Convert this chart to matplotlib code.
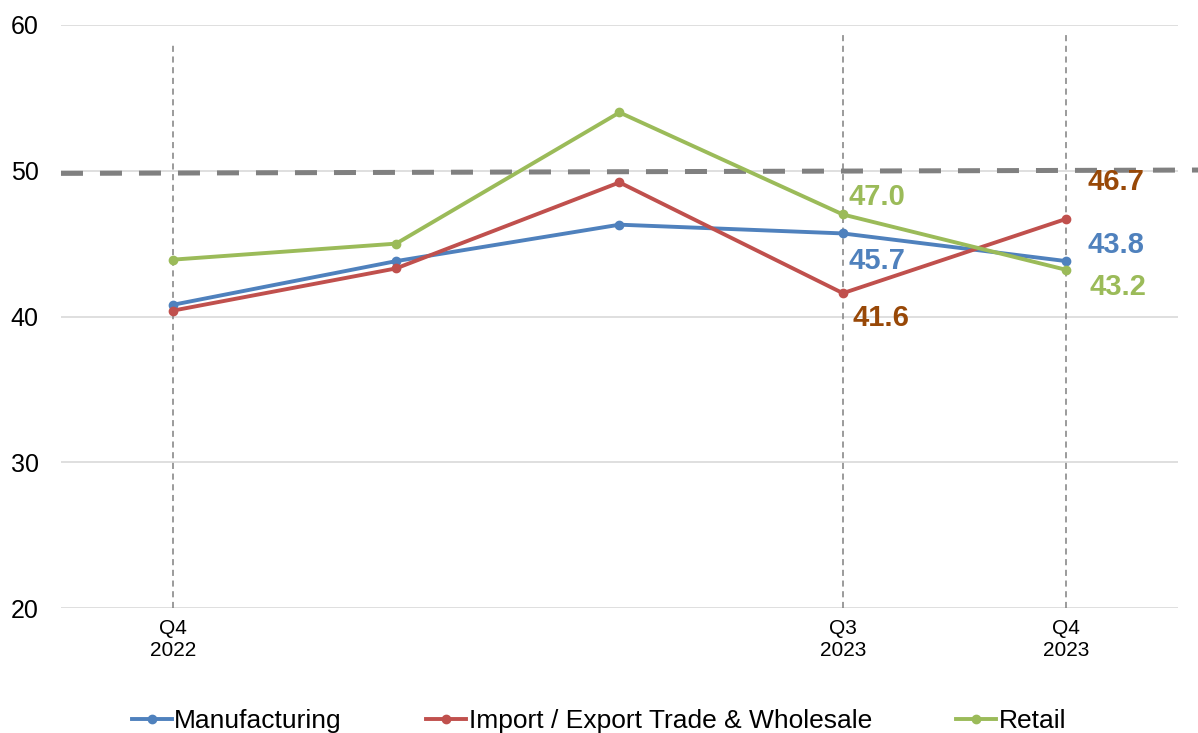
import numpy as np
import matplotlib
matplotlib.use("Agg")
import matplotlib.pyplot as plt

# data
quarters = ["Q4\n2022", "", "", "Q3\n2023", "Q4\n2023"]
manufacturing = [40.8, 43.8, 46.3, 45.7, 43.8]
import_export = [40.4, 43.3, 49.2, 41.6, 46.7]
retail = [43.9, 45.0, 54.0, 47.0, 43.2]

plt.rcParams['font.family'] = ['Liberation Sans', 'DejaVu Sans']

fig = plt.figure(figsize=(11.98, 7.33), dpi=100)
ax = fig.add_axes([0.0509, 0.1705, 0.9324, 0.7954])

x = np.arange(len(quarters))
blue = '#4F81BD'
red = '#C0504D'
green = '#9BBB59'

# gridlines
ax.set_ylim(20, 60)
ax.set_xlim(-0.5, 4.5)
ax.set_yticks([20, 30, 40, 50, 60])
ax.grid(axis='y', color='#D9D9D9', linewidth=1.2)
ax.set_axisbelow(True)
for s in ax.spines.values():
    s.set_visible(False)

# vertical markers for labelled quarters
for xi, top in [(0, 58.8), (3, 59.3), (4, 59.6)]:
    ax.plot([xi, xi], [20, top], color='#808080', linestyle=(0, (4, 3)),
            linewidth=1.1, zorder=1)

# 50 threshold line (runs off the right edge)
ax.plot([-0.5, 4.6], [49.82, 50.05], color='#808080', linestyle=(0, (4.4, 3.4)),
        linewidth=3.6, clip_on=False, zorder=2)

ax.plot(x, manufacturing, color=blue, marker='o', markersize=6, linewidth=2.8,
        label='Manufacturing', zorder=3)
ax.plot(x, import_export, color=red, marker='o', markersize=6, linewidth=2.8,
        label='Import / Export Trade & Wholesale', zorder=3)
ax.plot(x, retail, color=green, marker='o', markersize=6, linewidth=2.8,
        label='Retail', zorder=3)

# value labels
brown = '#984807'
labels = [
    (3, retail[3], green, (6, 17)),
    (3, manufacturing[3], blue, (6, -28)),
    (3, import_export[3], brown, (10, -25)),
    (4, import_export[4], brown, (21, 37)),
    (4, manufacturing[4], blue, (21, 16)),
    (4, retail[4], green, (23, -17)),
]
for xi, v, c, off in labels:
    ax.annotate(f"{v:.1f}", (xi, v), xytext=off, textcoords='offset pixels',
                color=c, fontsize=21, fontweight='bold', ha='left', va='center')

ax.set_xticks(x)
ax.set_xticklabels(quarters, fontsize=15)
ax.tick_params(axis='x', length=0, pad=8)
ax.tick_params(axis='y', length=0, pad=16, labelsize=18)

fig.legend(loc='lower center', bbox_to_anchor=(0.5, -0.033), ncol=3, frameon=False,
           fontsize=19, handlelength=1.5, handletextpad=0.1, columnspacing=3.2)

fig.savefig('out.png', dpi=100)
